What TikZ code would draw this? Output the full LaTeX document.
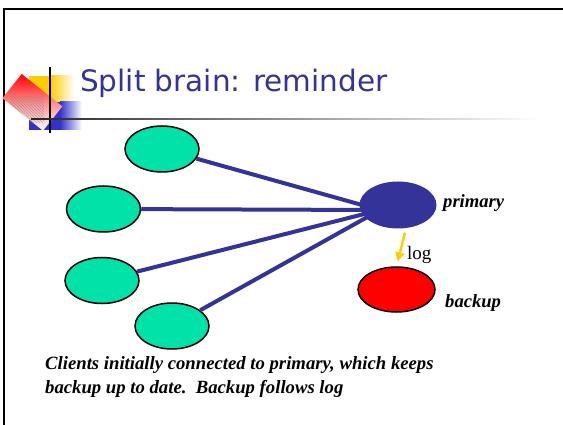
\documentclass[tikz,border=0pt]{standalone}
\usepackage{fontspec}
\setmainfont{Liberation Serif}
\newfontfamily\titlefont{DejaVu Sans}
\usetikzlibrary{shapes.geometric,arrows.meta,patterns}
\definecolor{slideblue}{RGB}{51,51,153}
\definecolor{clientgreen}{RGB}{0,226,168}
\definecolor{logyellow}{RGB}{255,204,0}
\definecolor{logoblue}{RGB}{51,51,204}
\begin{document}
\begin{tikzpicture}[x=1pt,y=-1pt,
    client/.style={ellipse, draw=black, line width=1.5pt, fill=clientgreen, minimum width=74pt, minimum height=46pt, inner sep=0pt},
    server/.style={ellipse, minimum width=77pt, minimum height=47pt, inner sep=0pt},
    link/.style={draw=slideblue, line width=4pt},
    logarrow/.style={draw=logyellow, line width=2.4pt, -{Triangle[width=9pt,length=9pt]}},
    role/.style={anchor=base west, inner sep=0pt, font=\fontsize{18.6}{20}\selectfont\bfseries\itshape},
    caption/.style={anchor=base west, inner sep=0pt, font=\fontsize{18.7}{20}\selectfont\bfseries\itshape}]
    \useasboundingbox (0,0) rectangle (563,425);

    % slide frame
    \draw[line width=2pt] (4,425) -- (4,9.3) -- (566,9.3);

    % logo
    \fill[logyellow] (29,76) rectangle (50,102);
    \shade[left color=logyellow, right color=white] (50,76) rectangle (74,102);
    \fill[logoblue] (29,102) rectangle (60,130);
    \shade[left color=logoblue, right color=white] (60,102) rectangle (82,130);
    \shade[rotate around={-38.6:(21.7,74)}, top color=red, bottom color=white, middle color=red!45]
        (21.7,74) rectangle (73.7,105);
    \begin{scope}
        \clip[rotate around={-38.6:(21.7,74)}] (21.7,74) rectangle (73.7,105);
        \fill[pattern=north west lines, pattern color=black!50, opacity=0.55] (10,97) rectangle (44,123);
    \end{scope}
    \draw[line width=1.2pt] (50,67) -- (50,133);
    \shade[left color=black!85, right color=white] (31,118.2) rectangle (540,119.8);

    % title
    \node[anchor=base west, inner sep=0pt, text=slideblue, font=\titlefont\fontsize{29.5}{32}\selectfont] (title) at (80,92) {Split brain: reminder};

    % clients
    \node[client] (c1) at (162,149) {};
    \node[client] (c2) at (103.5,209) {};
    \node[client] (c3) at (102,280.5) {};
    \node[client] (c4) at (172,326) {};

    % links to the primary
    \coordinate (hub) at (380,210);
    \draw[link] (c1) -- (hub);
    \draw[link] (c2) -- (hub);
    \draw[link] (c3) -- (hub);
    \draw[link] (c4) -- (hub);

    % servers
    \node[server, fill=slideblue] (prim) at (398,205) {};
    \node[server, fill=red, draw=black, line width=1.5pt, minimum height=45pt] (backup) at (396.5,289.5) {};
    \node[role] (primlabel) at (443,208) {primary};
    \node[role] (backlabel) at (445,307) {backup};

    % log shipping
    \draw[logarrow, shorten <=4pt, shorten >=5pt] ([xshift=8pt]prim.south) -- (backup.north);
    \node[anchor=base west, inner sep=0pt, font=\fontsize{19}{20}\selectfont] (loglabel) at (407,260) {log};

    % caption
    \node[caption] (cap1) at (45,369) {Clients initially connected to primary, which keeps};
    \node[caption] (cap2) at (45,393) {backup up to date.\ \ Backup follows log};
\end{tikzpicture}
\end{document}
